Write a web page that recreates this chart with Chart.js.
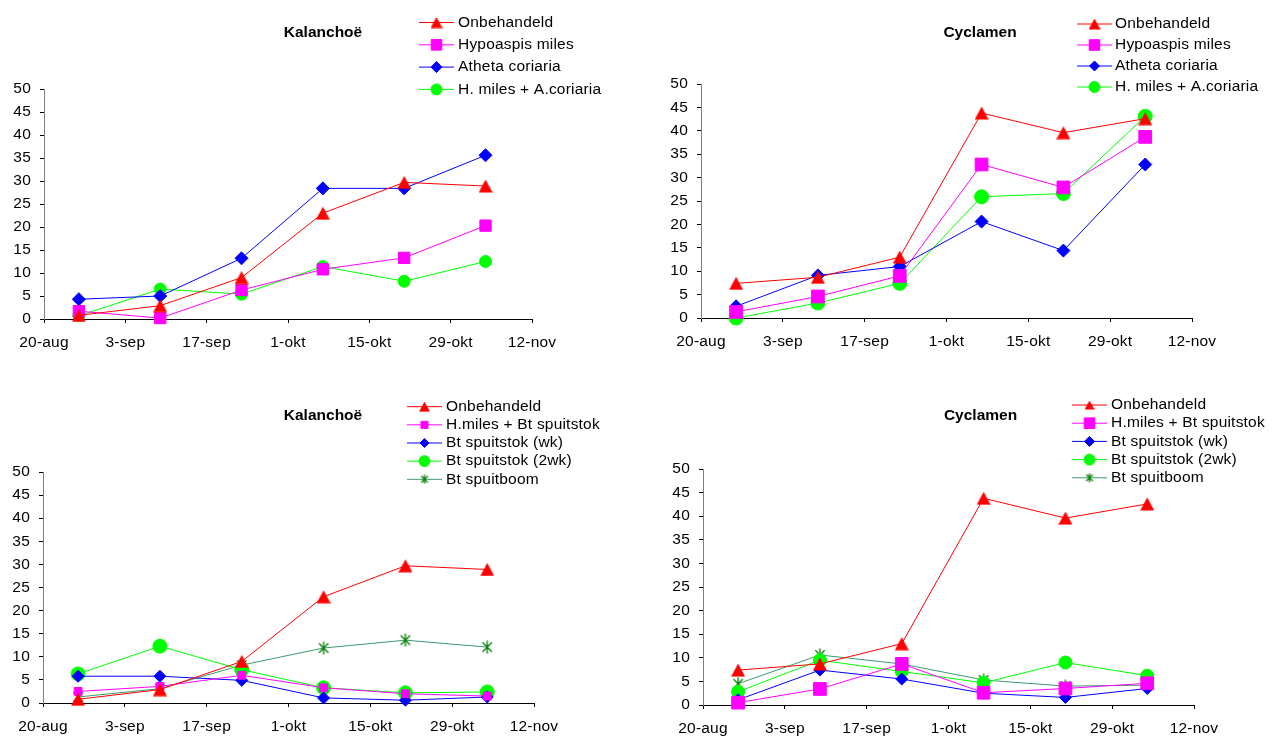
<!DOCTYPE html>
<html>
<head>
<meta charset="utf-8">
<script src="https://cdn.jsdelivr.net/npm/chart.js@4.4.0/dist/chart.umd.min.js"></script>
<style>
  html, body { margin: 0; padding: 0; background: #ffffff; }
  #wrap { position: relative; width: 1278px; height: 738px; overflow: hidden; }
  #wrap canvas { position: absolute; }
</style>
</head>
<body>
<div id="wrap">
  <canvas id="kalPred" width="640" height="369" style="left:0;top:0"></canvas>
  <canvas id="cycPred" width="638" height="369" style="left:640px;top:0"></canvas>
  <canvas id="kalBt" width="640" height="369" style="left:0;top:369px"></canvas>
  <canvas id="cycBt" width="638" height="369" style="left:640px;top:369px"></canvas>
</div>
<script>
// x axis: days counted from 20 August, labelled every two weeks
const tickDays = [0, 14, 28, 42, 56, 70, 84];
const tickLabels = ['20-aug', '3-sep', '17-sep', '1-okt', '15-okt', '29-okt', '12-nov'];
// sampling dates (26-aug, 9-sep, 23-sep, 7-okt, 21-okt, 4-nov) as day numbers
const sampleDays = [6, 20, 34, 48, 62, 76];
const yTicks = { min: 0, max: 50, step: 5 };

// Kalanchoë – predators
const kalOnbehandeld = [0.8, 2.9, 9.0, 23.0, 29.7, 28.9];
const kalHypoaspis = [1.7, 0.2, 6.3, 10.8, 13.3, 20.3];
const kalAtheta = [4.3, 5.0, 13.2, 28.4, 28.4, 35.6];
const kalHmilesAcoriaria = [0.7, 6.5, 5.4, 11.4, 8.2, 12.5];

// Cyclamen – predators
const cycOnbehandeld = [7.4, 8.7, 13.0, 43.8, 39.6, 42.6];
const cycHypoaspis = [1.3, 4.6, 9.0, 32.8, 27.9, 38.7];
const cycAtheta = [2.5, 9.1, 11.0, 20.6, 14.4, 32.8];
const cycHmilesAcoriaria = [0.0, 3.2, 7.4, 25.9, 26.6, 43.1];

// Kalanchoë – Bt treatments
const kalHmilesBt = [2.5, 3.6, 6.0, 3.3, 2.0, 1.5];
const kalBtWk = [5.8, 5.8, 4.9, 1.1, 0.6, 1.3];
const kalBt2wk = [6.3, 12.3, 7.2, 3.3, 2.2, 2.4];
const kalBtBoom = [1.3, 3.1, 8.2, 11.9, 13.6, 12.1];

// Cyclamen – Bt treatments
const cycHmilesBt = [0.5, 3.4, 8.7, 2.6, 3.5, 4.6];
const cycBtWk = [1.1, 7.4, 5.5, 2.5, 1.6, 3.5];
const cycBt2wk = [2.8, 9.5, 7.1, 4.7, 9.0, 6.2];
const cycBtBoom = [4.5, 10.6, 8.7, 5.3, 4.0, 4.2];

const LABEL_FAMILY = "'Liberation Sans', Arial, sans-serif";
const LABEL_SIZE = 15.5;
const TITLE_FONT = "bold 15.5px 'Liberation Sans', Arial, sans-serif";
const LETTER = '0.2px';

// small bitmap markers (triangle centred on its box, six-spoke star)
function markerCanvas(kind, size, color) {
  const c = document.createElement('canvas');
  c.width = size; c.height = size;
  const g = c.getContext('2d');
  g.fillStyle = color; g.strokeStyle = color;
  if (kind === 'triangle') {
    const h = Math.round(size * 0.9);
    const top = (size - h) / 2;
    g.beginPath();
    g.moveTo(size / 2, top);
    g.lineTo(size, top + h);
    g.lineTo(0, top + h);
    g.closePath();
    g.fill();
  } else if (kind === 'star') {
    g.lineWidth = 1.3;
    const m = size / 2, r = size / 2 - 0.5, d = r * 0.72;
    g.beginPath();
    g.moveTo(m, m - r); g.lineTo(m, m + r);
    g.moveTo(m - d, m - d); g.lineTo(m + d, m + d);
    g.moveTo(m + d, m - d); g.lineTo(m - d, m + d);
    g.stroke();
  }
  return c;
}

const STYLE = {
  onb:  { color: '#FF0000', line: '#FF0000', kind: 'triangle' },
  hyp:  { color: '#FF00FF', line: '#FF00FF', kind: 'rect' },
  ath:  { color: '#0000FF', line: '#0000FF', kind: 'rectRot' },
  comb: { color: '#00FF00', line: '#00FF00', kind: 'circle' },
  boom: { color: '#008000', line: '#3C9A6E', kind: 'star' }
};

// [label, values, style, marker size on plot, marker size in legend]
const panels = [
  {
    id: 'kalPred', ox: 0, oy: 0, w: 640, h: 369,
    area: { l: 44, r: 532, t: 89, b: 319 },
    title: 'Kalanchoë', titleX: 323, titleY: 33,
    legend: { x0: 419, x1: 454, tx: 458, y0: 22.5, dy: 22.3 },
    series: [
      ['Onbehandeld', kalOnbehandeld, 'onb', 14, 12],
      ['Hypoaspis miles', kalHypoaspis, 'hyp', 8, 7.5],
      ['Atheta coriaria', kalAtheta, 'ath', 6.5, 5.5],
      ['H. miles + A.coriaria', kalHmilesAcoriaria, 'comb', 6, 5.5]
    ]
  },
  {
    id: 'cycPred', ox: 640, oy: 0, w: 638, h: 369,
    area: { l: 701, r: 1192, t: 84, b: 318 },
    title: 'Cyclamen', titleX: 980, titleY: 33,
    legend: { x0: 1077, x1: 1112, tx: 1115, y0: 24, dy: 21 },
    series: [
      ['Onbehandeld', cycOnbehandeld, 'onb', 14, 12],
      ['Hypoaspis miles', cycHypoaspis, 'hyp', 9, 7.5],
      ['Atheta coriaria', cycAtheta, 'ath', 6.5, 5],
      ['H. miles + A.coriaria', cycHmilesAcoriaria, 'comb', 7, 5.5]
    ]
  },
  {
    id: 'kalBt', ox: 0, oy: 369, w: 640, h: 369,
    area: { l: 43, r: 534, t: 472, b: 703 },
    title: 'Kalanchoë', titleX: 323, titleY: 415.5,
    legend: { x0: 407, x1: 442, tx: 446, y0: 406.7, dy: 18.15 },
    series: [
      ['Onbehandeld', kalOnbehandeld, 'onb', 14, 11],
      ['H.miles + Bt spuitstok', kalHmilesBt, 'hyp', 5.5, 5],
      ['Bt spuitstok (wk)', kalBtWk, 'ath', 6, 4.5],
      ['Bt spuitstok (2wk)', kalBt2wk, 'comb', 7, 5.5],
      ['Bt spuitboom', kalBtBoom, 'boom', 14, 10]
    ]
  },
  {
    id: 'cycBt', ox: 640, oy: 369, w: 638, h: 369,
    area: { l: 703, r: 1194, t: 469, b: 705 },
    title: 'Cyclamen', titleX: 980.5, titleY: 415.5,
    legend: { x0: 1072, x1: 1107, tx: 1111, y0: 405, dy: 18.2 },
    series: [
      ['Onbehandeld', cycOnbehandeld, 'onb', 14, 10],
      ['H.miles + Bt spuitstok', cycHmilesBt, 'hyp', 9, 7.5],
      ['Bt spuitstok (wk)', cycBtWk, 'ath', 6, 5],
      ['Bt spuitstok (2wk)', cycBt2wk, 'comb', 6.5, 5.5],
      ['Bt spuitboom', cycBtBoom, 'boom', 14, 10]
    ]
  }
];

function pointStyleFor(st, size) {
  if (st.kind === 'triangle' || st.kind === 'star') {
    return { style: markerCanvas(st.kind, size, st.color), radius: size / 2 };
  }
  return { style: st.kind, radius: size };
}

// title and legend drawn on top of each panel; letter spacing for the labels
const panelDeco = {
  id: 'panelDeco',
  beforeDraw(chart) {
    chart.ctx.letterSpacing = LETTER;
  },
  afterDraw(chart, args, opts) {
    const ctx = chart.ctx;
    const p = opts.panel;
    ctx.save();
    ctx.letterSpacing = '0px';
    ctx.fillStyle = '#000';
    ctx.font = TITLE_FONT;
    ctx.textAlign = 'center';
    ctx.textBaseline = 'middle';
    ctx.fillText(p.title, p.titleX - p.ox, p.titleY - p.oy);

    const lg = p.legend;
    p.series.forEach((s, i) => {
      const st = STYLE[s[2]];
      const y = lg.y0 + i * lg.dy - p.oy;
      ctx.strokeStyle = st.line;
      ctx.lineWidth = 1;
      ctx.beginPath();
      ctx.moveTo(lg.x0 - p.ox, y);
      ctx.lineTo(lg.x1 - p.ox, y);
      ctx.stroke();
      const ps = pointStyleFor(st, s[4]);
      ctx.fillStyle = st.color;
      ctx.strokeStyle = st.color;
      Chart.helpers.drawPoint(ctx, {
        pointStyle: ps.style, radius: ps.radius, rotation: 0, borderWidth: 1
      }, (lg.x0 + lg.x1) / 2 - p.ox, y);
      ctx.letterSpacing = LETTER;
      ctx.fillStyle = '#000';
      ctx.font = LABEL_SIZE + 'px ' + LABEL_FAMILY;
      ctx.textAlign = 'left';
      ctx.textBaseline = 'middle';
      ctx.fillText(s[0], lg.tx - p.ox, y);
    });
    ctx.restore();
  }
};

panels.forEach(p => {
  const datasets = p.series.map(s => {
    const st = STYLE[s[2]];
    const ps = pointStyleFor(st, s[3]);
    return {
      label: s[0],
      data: sampleDays.map((d, i) => ({ x: d, y: s[1][i] })),
      borderColor: st.line,
      backgroundColor: st.color,
      borderWidth: 1,
      pointStyle: ps.style,
      pointRadius: ps.radius,
      pointHoverRadius: ps.radius,
      pointBackgroundColor: st.color,
      pointBorderColor: st.color,
      pointBorderWidth: 1,
      tension: 0,
      clip: false
    };
  });

  const tickFont = { family: LABEL_FAMILY, size: LABEL_SIZE };
  new Chart(document.getElementById(p.id), {
    type: 'line',
    data: { datasets },
    options: {
      responsive: false,
      animation: false,
      devicePixelRatio: 1,
      events: [],
      layout: {
        padding: {
          left: 0,
          top: p.area.t - p.oy,
          right: p.ox + p.w - p.area.r,
          bottom: 0
        }
      },
      plugins: {
        legend: { display: false },
        title: { display: false },
        tooltip: { enabled: false },
        panelDeco: { panel: p }
      },
      scales: {
        x: {
          type: 'linear',
          min: tickDays[0],
          max: tickDays[tickDays.length - 1],
          afterBuildTicks: sc => { sc.ticks = tickDays.map(v => ({ value: v })); },
          afterFit: sc => { sc.height = p.oy + p.h - p.area.b; },
          ticks: {
            autoSkip: false,
            maxRotation: 0,
            padding: 10,
            color: '#000',
            font: tickFont,
            callback: v => tickLabels[tickDays.indexOf(v)]
          },
          grid: { drawOnChartArea: false, drawTicks: true, tickLength: 4, color: '#000' },
          border: { display: true, color: '#000', width: 1 }
        },
        y: {
          type: 'linear',
          min: yTicks.min,
          max: yTicks.max,
          afterFit: sc => { sc.width = p.area.l - p.ox; },
          ticks: {
            stepSize: yTicks.step,
            padding: 9,
            color: '#000',
            font: tickFont
          },
          grid: { drawOnChartArea: false, drawTicks: true, tickLength: 4, color: '#000' },
          border: { display: true, color: '#808080', width: 1 }
        }
      }
    },
    plugins: [panelDeco]
  });
});
</script>
</body>
</html>
